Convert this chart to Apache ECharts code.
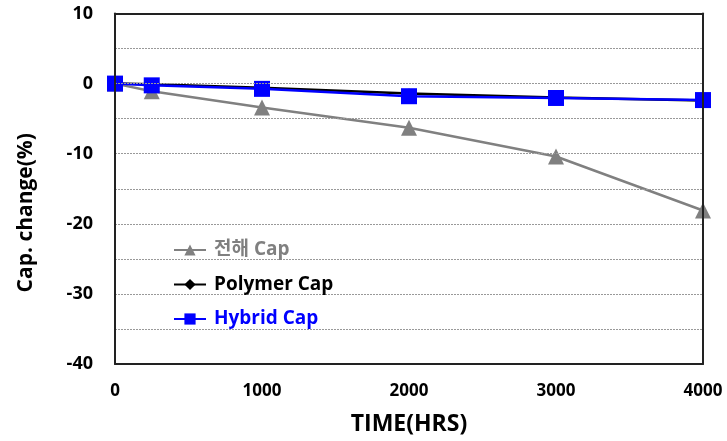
<!DOCTYPE html>
<html>
<head>
<meta charset="utf-8">
<script src="https://cdn.jsdelivr.net/npm/echarts@6/dist/echarts.min.js"></script>
<style>
html,body{margin:0;padding:0;background:#fff;}
#chart{width:727px;height:441px;}
</style>
</head>
<body>
<div id="chart"></div>
<script>
var hours = [0, 250, 1000, 2000, 3000, 4000];
var electrolyticCap = [0, -1.1, -3.4, -6.3, -10.4, -18.1];
var polymerCap = [0, -0.1, -0.6, -1.4, -2.0, -2.4];
var hybridCap = [0, -0.25, -0.75, -1.8, -2.05, -2.35];
var seriesNames = ['전해 Cap', 'Polymer Cap', 'Hybrid Cap'];
var seriesColors = ['#808080', '#000000', '#0000ff'];

function pairs(xs, ys) { return xs.map(function (x, i) { return [x, ys[i]]; }); }

var FONT = '"Open Sans", "Noto Sans CJK KR", sans-serif';
var frameAxis = {
  show: true, z: 5, axisLine: { show: true, onZero: false, lineStyle: { color: '#222', width: 2 } },
  axisTick: { show: false }, axisLabel: { show: false }, splitLine: { show: false }
};
var chart = echarts.init(document.getElementById('chart'));
chart.setOption({
  animation: false,
  backgroundColor: '#fff',
  textStyle: { fontFamily: FONT },
  grid: { left: 115, right: 24, top: 13.5, bottom: 77 },
  legend: {
    orient: 'vertical',
    left: 143,
    top: 232,
    padding: [8, 36, 8, 30],
    itemGap: 14.5,
    itemWidth: 32,
    itemHeight: 14,
    backgroundColor: '#fff',
    data: seriesNames.map(function (n, i) { return { name: n, textStyle: { color: seriesColors[i] } }; }),
    textStyle: { fontFamily: FONT, fontSize: 19, fontWeight: 'bold', lineHeight: 20, padding: [0, 0, 0, 3] }
  },
  xAxis: [{
    type: 'value', min: 0, max: 4000, interval: 1000, z: 4,
    name: 'TIME(HRS)', nameLocation: 'middle', nameGap: 49,
    nameTextStyle: { fontSize: 23, fontWeight: 'bold', color: '#000', fontFamily: FONT },
    axisLine: { show: true, onZero: false, lineStyle: { color: '#222', width: 2 } },
    axisTick: { show: false },
    splitLine: { show: false },
    axisLabel: { margin: 19, fontSize: 17, fontWeight: 'bold', color: '#000', fontFamily: FONT,
      formatter: function (v) { return String(v); } }
  }, Object.assign({ type: 'value', min: 0, max: 4000, position: 'top' }, frameAxis)],
  yAxis: [{
    type: 'value', min: -40, max: 10, interval: 5, z: 4,
    name: 'Cap. change(%)', nameLocation: 'middle', nameGap: 78,
    nameTextStyle: { fontSize: 21, fontWeight: 'bold', color: '#000', fontFamily: FONT, padding: [0, 48, 0, 0] },
    axisLine: { show: true, onZero: false, lineStyle: { color: '#222', width: 2 } },
    axisTick: { show: false },
    splitLine: { show: true, lineStyle: { color: '#999', type: [2, 1], width: 1 } },
    axisLabel: { margin: 22, fontSize: 18, fontWeight: 'bold', color: '#000', fontFamily: FONT,
      formatter: function (v) { return v % 10 === 0 ? String(v) : ''; } }
  }, Object.assign({ type: 'value', min: -40, max: 10, position: 'right' }, frameAxis)],
  series: [
    { name: seriesNames[0], type: 'line', data: pairs(hours, electrolyticCap), symbol: 'triangle', symbolSize: 16,
      itemStyle: { color: seriesColors[0] }, lineStyle: { color: seriesColors[0], width: 2.5 } },
    { name: seriesNames[1], type: 'line', data: pairs(hours, polymerCap), symbol: 'diamond', symbolSize: 10,
      itemStyle: { color: seriesColors[1] }, lineStyle: { color: seriesColors[1], width: 2.5 } },
    { name: seriesNames[2], type: 'line', data: pairs(hours, hybridCap), symbol: 'rect', symbolSize: 16,
      itemStyle: { color: seriesColors[2] }, lineStyle: { color: seriesColors[2], width: 2.5 } }
  ]
});
</script>
</body>
</html>
